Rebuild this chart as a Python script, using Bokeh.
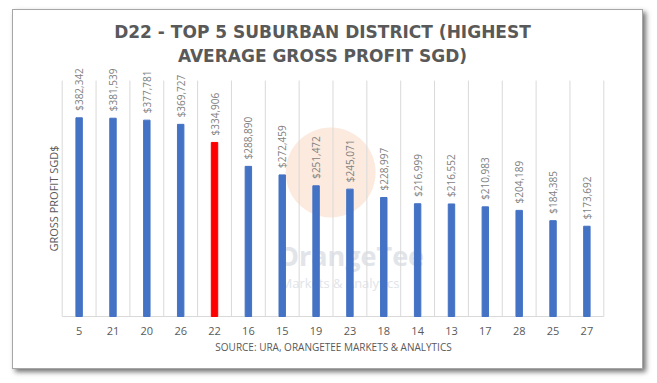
import math
from bokeh.plotting import figure
from bokeh.models import Label, ColumnDataSource, Range1d
from bokeh.core.properties import value
from bokeh.embed import file_html
from bokeh.resources import INLINE

districts = ["5", "21", "20", "26", "22", "16", "15", "19", "23", "18", "14", "13", "17", "28", "25", "27"]
profits = [382342, 381539, 377781, 369727, 334906, 288890, 272459, 251472, 245071, 228997,
           216999, 216552, 210983, 204189, 184385, 173692]
highlight = "22"
title_lines = ["D22 - TOP 5 SUBURBAN DISTRICT (HIGHEST", "AVERAGE GROSS PROFIT SGD)"]
y_title = "GROSS PROFIT SGD$"
source_note = "SOURCE: URA, ORANGETEE MARKETS & ANALYTICS"

BLUE = "#4472C4"
RED = "#FF0000"
GREY = "#595959"
GRID = "#d9d9d9"

n = len(districts)
xs = list(range(n))
colors = [RED if d == highlight else BLUE for d in districts]
labels = ["${:,}".format(v) for v in profits]
src = ColumnDataSource(dict(x=xs, y=profits, c=colors, lab=labels,
                            base=[0] * n, tick=districts))

W, H = 629, 358
PX_X = 33.85            # pixels per category
PX_Y = 1924.2           # value units per pixel
LEFT_PAD, BOTTOM_PAD = 48.7, 52
x0 = -0.5 - LEFT_PAD / PX_X
y0 = -BOTTOM_PAD * PX_Y
grid_top = 454000

p = figure(width=W, height=H, output_backend="svg", toolbar_location=None,
           x_range=Range1d(x0, x0 + W / PX_X), y_range=Range1d(y0, y0 + H * PX_Y),
           min_border=0)
p.frame_width = W
p.frame_height = H
p.styles = {"margin-left": "12px", "margin-top": "9px",
            "border": "1px solid #a6a6a6",
            "box-shadow": "3px 3px 5px rgba(0,0,0,0.55)"}
p.outline_line_color = None
p.xgrid.visible = False
p.ygrid.visible = False
p.xaxis.visible = False
p.yaxis.visible = False
p.background_fill_color = "white"
p.border_fill_color = "white"

# watermark (Label positions in pixels from the chart's bottom-left)
p.scatter(x=[7.43], y=[277100], size=90, marker="circle", fill_color="#f8cbad",
          fill_alpha=0.4, line_color=None, level="underlay")
p.add_layout(Label(x=264, y=113, x_units="screen", y_units="screen",
                   text="OrangeTee", text_font="Open Sans", text_font_style="bold",
                   text_font_size="27px", text_baseline="middle",
                   text_color="#e1e4e9", level="underlay"))
p.add_layout(Label(x=267, y=86, x_units="screen", y_units="screen",
                   text="Markets & Analytics", text_font="Open Sans", text_font_size="13px",
                   text_baseline="middle", text_color="#e1e4e9", level="underlay"))

# category gridlines and baseline
bounds = [i - 0.5 for i in range(n + 1)]
p.segment(x0=bounds, y0=[0] * len(bounds), x1=bounds, y1=[grid_top] * len(bounds),
          line_color=GRID, line_width=1)
p.segment(x0=[-0.5], y0=[0], x1=[n - 0.5], y1=[0], line_color=GRID, line_width=1)

p.vbar(x="x", top="y", width=0.19, color="c", source=src)
p.text(x="x", y="y", text="lab", source=src, angle=math.pi / 2, y_offset=-7,
       text_align="left", text_baseline="middle", text_font=value("Open Sans"),
       text_font_size="10px", text_color="#7f7f7f")

# category tick labels
p.text(x="x", y="base", text="tick", source=src, y_offset=14,
       text_align="center", text_baseline="middle", text_font=value("Open Sans"),
       text_font_size="11px", text_color=GREY)

# titles and labels
p.add_layout(Label(x=309, y=337, x_units="screen", y_units="screen", text=title_lines[0],
                   text_align="center", text_baseline="middle", text_font="DejaVu Sans",
                   text_font_style="bold", text_font_size="17px", text_color=GREY))
p.add_layout(Label(x=309, y=313, x_units="screen", y_units="screen", text=title_lines[1],
                   text_align="center", text_baseline="middle", text_font="DejaVu Sans",
                   text_font_style="bold", text_font_size="17px", text_color=GREY))
p.add_layout(Label(x=40, y=170, x_units="screen", y_units="screen", text=y_title,
                   angle=math.pi / 2, text_align="center", text_baseline="middle",
                   text_font="Open Sans", text_font_size="11px", text_color=GREY))
p.add_layout(Label(x=320, y=22, x_units="screen", y_units="screen", text=source_note,
                   text_align="center", text_baseline="middle", text_font="Open Sans",
                   text_font_size="10px", text_color=GREY))

open("out.html", "w").write(file_html(p, INLINE))
